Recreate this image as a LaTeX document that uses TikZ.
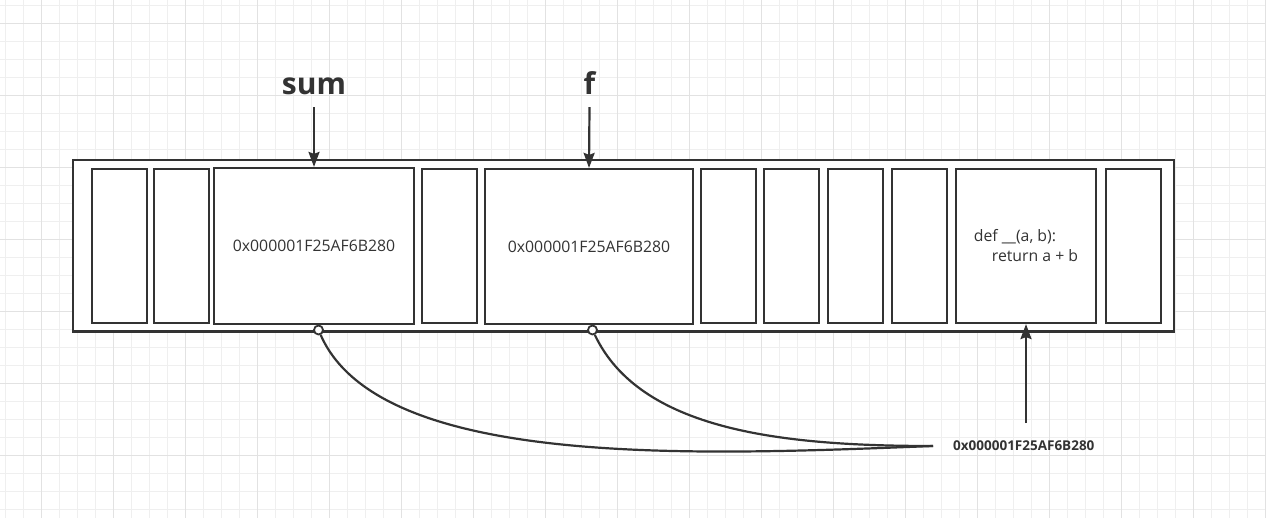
\documentclass[tikz,border=0pt]{standalone}
\usepackage{fontspec}
\setmainfont{Open Sans}
\usetikzlibrary{positioning,arrows.meta}
\definecolor{ink}{HTML}{333333}
\definecolor{gridminor}{HTML}{EFEFEF}
\definecolor{gridmajor}{HTML}{E2E2E2}
\tikzset{
  gmin/.style  ={draw=gridminor, line width=1pt},
  gmaj/.style  ={draw=gridmajor, line width=1pt},
  mem/.style   ={rectangle, draw=ink, line width=2.2pt, fill=white, inner sep=0pt, minimum width=1101pt, minimum height=171.5pt},
  cell/.style  ={rectangle, draw=ink, line width=2.2pt, fill=white, inner sep=0pt, minimum width=55pt, minimum height=154pt, text=ink, font=\fontsize{15.8}{20}\selectfont},
  varlbl/.style={anchor=base, inner sep=0pt, text=ink, font=\fontsize{30}{34}\selectfont\bfseries},
  addr/.style  ={anchor=west, inner sep=0pt, text=ink, font=\fontsize{13.5}{16}\selectfont\bfseries},
  dot/.style   ={circle, draw=ink, line width=1.8pt, fill=white, minimum size=9pt, inner sep=0pt},
  ptr/.style   ={-{Stealth[length=15pt, width=11pt, inset=2pt]}, draw=ink, line width=2.2pt},
  link/.style  ={draw=ink, line width=2.2pt},
}

\begin{document}
\begin{tikzpicture}[x=1pt, y=-1pt]
\fill[white] (0,0) rectangle (1266,518);
\useasboundingbox (0,0) rectangle (1266,518);
% background grid
\foreach \k in {0,...,70} \draw[gmin] ({5.5+18*\k},0) -- ({5.5+18*\k},518);
\foreach \k in {0,...,28} \draw[gmin] (0,{5.3+18*\k}) -- (1266,{5.3+18*\k});
\foreach \k in {0,...,17} \draw[gmaj] ({41.5+72*\k},0) -- ({41.5+72*\k},518);
\foreach \k in {0,...,6} \draw[gmaj] (0,{23.3+72*\k}) -- (1266,{23.3+72*\k});

% memory block and its cells
\node[mem] (heap) at (623.5,245.75) {};
\foreach \n/\x in {c1/119.5, c2/181.5, c4/449.5, c6/728.5, c7/791.5, c8/855.5, c9/919.5, c11/1133.5}
  \node[cell] (\n) at (\x,246) {};
\node[cell, minimum width=200pt, minimum height=156pt] (sumcell) at (314,246) {0x000001F25AF6B280};
\node[cell, minimum width=208pt, minimum height=155pt] (fcell) at (589,246.5) {0x000001F25AF6B280};
\node[cell, minimum width=140pt, align=left] (defcell) at (1026,246)
  {def \_\_(a, b):\\\hspace*{18pt}return a + b};

% names
\node[varlbl] (sumlbl) at (314,95) {sum};
\node[varlbl] (flbl) at (589.5,95) {f};
\draw[ptr] ([yshift=-12pt]sumlbl.south) -- (sumcell.north);
\draw[ptr] ([yshift=-12pt]flbl.south) -- (fcell.north);

% references to the function object
\node[dot] (sumdot) at (318.5,330) {};
\node[dot] (fdot) at (592.5,330) {};
\coordinate (join) at (933,446);
\node[addr, right=20pt of join] (addr) {0x000001F25AF6B280};
\draw[link] (sumdot) .. controls (380,470) and (700,455) .. (join);
\draw[link] (fdot) .. controls (640,430) and (780,446) .. (join);
\coordinate (ptrtail) at (1026,423);
\draw[ptr] (ptrtail) -- (defcell.south);
\end{tikzpicture}
\end{document}
